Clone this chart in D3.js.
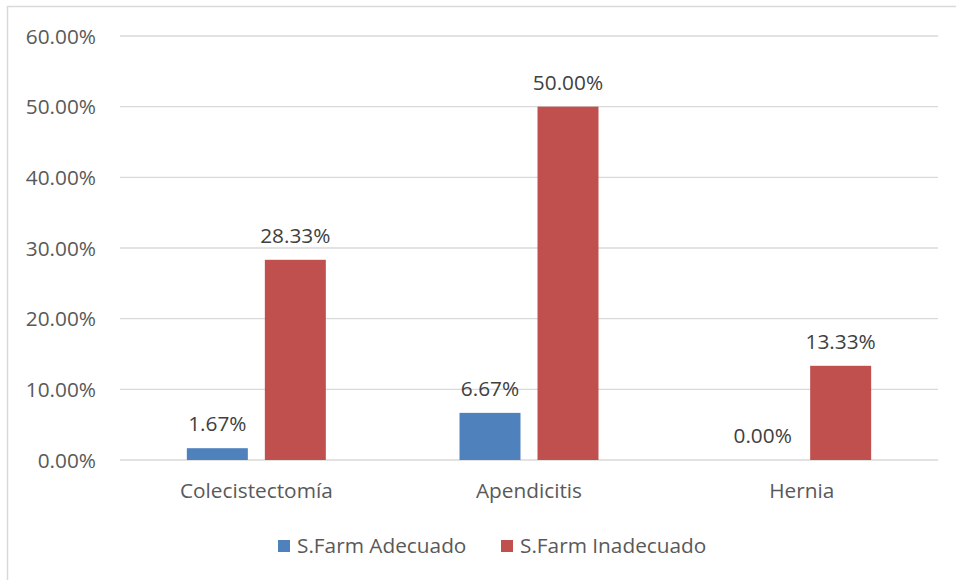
<!DOCTYPE html>
<html>
<head>
<meta charset="utf-8">
<script src="https://cdn.jsdelivr.net/npm/d3@7"></script>
<style>
  body { margin: 0; background: #fff; }
  text { font-family: "Open Sans", sans-serif; }
</style>
</head>
<body>
<div id="chart"></div>
<script>
var categories = ["Colecistectomía", "Apendicitis", "Hernia"];
var seriesNames = ["S.Farm Adecuado", "S.Farm Inadecuado"];
var adecuado = [1.67, 6.67, 0.00];
var inadecuado = [28.33, 50.00, 13.33];
var yTicks = [0, 10, 20, 30, 40, 50, 60];
var colours = ["#4F81BD", "#C0504D"];

var width = 956, height = 580;
var margin = {left: 120, right: 18, top: 36, bottom: 120};
var fontSize = "20.8px";

var svg = d3.select("#chart").append("svg")
  .attr("width", width)
  .attr("height", height);

// outer chart border
svg.append("rect")
  .attr("x", 7.5).attr("y", 6.5)
  .attr("width", width + 10).attr("height", height + 10)
  .attr("fill", "none")
  .attr("stroke", "#D9D9D9")
  .attr("stroke-width", 1.5);

var x0 = d3.scaleBand()
  .domain(categories)
  .range([margin.left, width - margin.right])
  .paddingInner(0).paddingOuter(0);

var x1 = d3.scaleBand()
  .domain(seriesNames)
  .range([0, x0.bandwidth()])
  .paddingInner(0.218)
  .paddingOuter(0.857);

var y = d3.scaleLinear()
  .domain([0, 60])
  .range([height - margin.bottom, margin.top]);

// gridlines
svg.append("g")
  .selectAll("line")
  .data(yTicks)
  .enter().append("line")
  .attr("x1", margin.left).attr("x2", width - margin.right)
  .attr("y1", d => y(d)).attr("y2", d => y(d))
  .attr("stroke", "#D9D9D9")
  .attr("stroke-width", 1.3);

// y axis labels
var yAxis = svg.append("g")
  .attr("transform", "translate(" + (margin.left - 24) + ",0)")
  .call(d3.axisLeft(y).tickValues(yTicks).tickSize(0).tickPadding(0)
    .tickFormat(d => d.toFixed(2) + "%"));
yAxis.select(".domain").remove();
yAxis.selectAll("text")
  .attr("fill", "#595959")
  .style("font-size", fontSize)
  .attr("dy", "0.35em");

// x axis labels
var xAxis = svg.append("g")
  .attr("transform", "translate(0," + y(0) + ")")
  .call(d3.axisBottom(x0).tickSize(0).tickPadding(23));
xAxis.select(".domain").remove();
xAxis.selectAll("text")
  .attr("fill", "#595959")
  .style("font-size", fontSize);

var data = categories.map((c, i) => ({
  category: c,
  values: [
    {name: seriesNames[0], value: adecuado[i]},
    {name: seriesNames[1], value: inadecuado[i]}
  ]
}));

var groups = svg.append("g")
  .selectAll("g")
  .data(data)
  .enter().append("g")
  .attr("transform", d => "translate(" + x0(d.category) + ",0)");

groups.selectAll("rect")
  .data(d => d.values)
  .enter().append("rect")
  .attr("x", d => x1(d.name))
  .attr("y", d => y(d.value))
  .attr("width", x1.bandwidth())
  .attr("height", d => y(0) - y(d.value))
  .attr("fill", (d, i) => colours[i]);

groups.selectAll("text")
  .data(d => d.values)
  .enter().append("text")
  .attr("x", d => x1(d.name) + x1.bandwidth() / 2)
  .attr("y", d => y(d.value) - 17)
  .attr("text-anchor", "middle")
  .attr("fill", "#404040")
  .style("font-size", fontSize)
  .text(d => d.value.toFixed(2) + "%");

// legend
var legendX = [278, 501];
var legend = svg.append("g")
  .selectAll("g")
  .data(seriesNames)
  .enter().append("g")
  .attr("transform", (d, i) => "translate(" + legendX[i] + ",540)");
legend.append("rect")
  .attr("width", 12).attr("height", 12)
  .attr("fill", (d, i) => colours[i]);
legend.append("text")
  .attr("x", 19).attr("y", 6)
  .attr("dy", "0.35em")
  .attr("fill", "#595959")
  .style("font-size", fontSize)
  .text(d => d);
</script>
</body>
</html>
